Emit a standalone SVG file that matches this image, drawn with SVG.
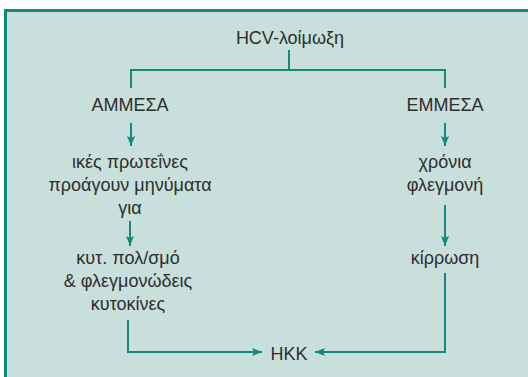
<svg xmlns="http://www.w3.org/2000/svg" width="528" height="377" viewBox="0 0 528 377">
<defs>
<style>
.t{font-family:"Liberation Sans",Arial,sans-serif;font-size:18px;fill:#2e2e2e;text-anchor:middle}
.c{stroke:#12897a;stroke-width:2;fill:none}
</style>
<marker id="ah" viewBox="0 0 10 8" refX="10" refY="4" markerWidth="10" markerHeight="8" markerUnits="userSpaceOnUse" orient="auto">
<path d="M0,0 L10,4 L0,8 L2,4 Z" fill="#12897a"/>
</marker>
</defs>
<rect x="0" y="0" width="528" height="377" fill="#ffffff"/>
<rect x="5" y="10" width="523" height="367" fill="#c8dfdb"/>
<path d="M5.5,377 V10.5 H528" stroke="#12897a" stroke-width="3" fill="none"/>
<g id="connectors">
<path class="c" d="M289,50 V70"/>
<path class="c" d="M131,88 V70 H445 V88"/>
<path class="c" d="M131,123 V146" marker-end="url(#ah)"/>
<path class="c" d="M445,123 V146" marker-end="url(#ah)"/>
<path class="c" d="M130,221 V246" marker-end="url(#ah)"/>
<path class="c" d="M445,205 V246" marker-end="url(#ah)"/>
<path class="c" d="M128,320 V352 H262" marker-end="url(#ah)"/>
<path class="c" d="M445,273 V352 H315" marker-end="url(#ah)"/>
</g>
<g id="hcv"><text class="t" x="290" y="44">HCV-λοίμωξη</text></g>
<g id="ammesa"><text class="t" x="130" y="111">ΑΜΜΕΣΑ</text></g>
<g id="emmesa"><text class="t" x="445" y="111">ΕΜΜΕΣΑ</text></g>
<g id="proteines"><text class="t" x="130" y="168">ικές πρωτεΐνες</text><text class="t" x="130" y="191">προάγουν μηνύματα</text><text class="t" x="130" y="214">για</text></g>
<g id="flegmoni"><text class="t" x="445" y="168">χρόνια</text><text class="t" x="445" y="191">φλεγμονή</text></g>
<g id="kyt"><text class="t" x="128" y="264">κυτ. πολ/σμό</text><text class="t" x="128" y="287">&amp; φλεγμονώδεις</text><text class="t" x="128" y="310">κυτοκίνες</text></g>
<g id="kirrosi"><text class="t" x="445" y="264">κίρρωση</text></g>
<g id="hkk"><text class="t" x="289" y="360">ΗΚΚ</text></g>
</svg>
